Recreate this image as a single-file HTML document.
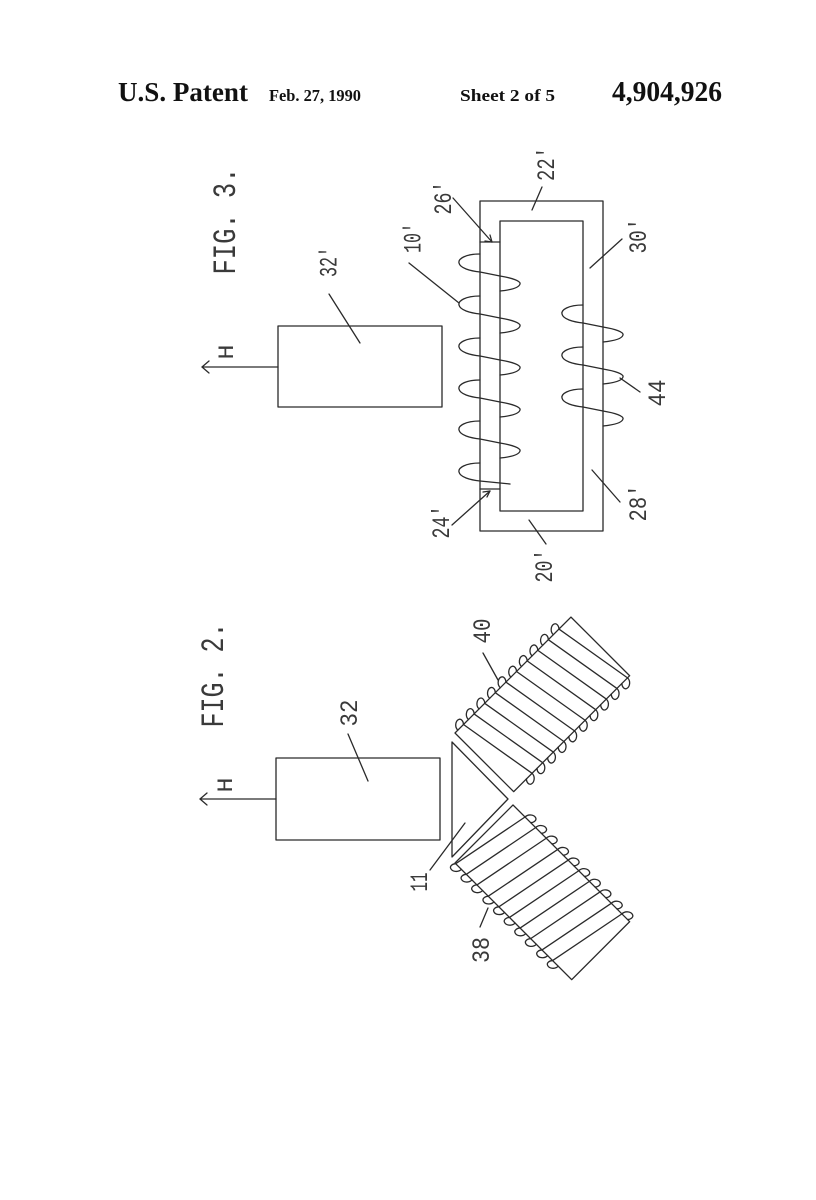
<!DOCTYPE html>
<html>
<head>
<meta charset="utf-8">
<style>
html,body{margin:0;padding:0;background:#fff;}
svg{display:block;}
.hd{font-family:"Liberation Serif",serif;font-weight:bold;fill:#111;}
.lb{font-family:"Liberation Mono",monospace;fill:#3a3a3a;}
.ln{fill:none;stroke:#2a2a2a;stroke-width:1.3;stroke-linecap:round;stroke-linejoin:round;}
</style>
</head>
<body>
<svg width="816" height="1200" viewBox="0 0 816 1200" xmlns="http://www.w3.org/2000/svg">
<!-- Header -->
<text class="hd" x="118" y="101" font-size="27" textLength="130" lengthAdjust="spacingAndGlyphs">U.S. Patent</text>
<text class="hd" x="269" y="101" font-size="17" textLength="92" lengthAdjust="spacingAndGlyphs">Feb. 27, 1990</text>
<text class="hd" x="460" y="101" font-size="17" textLength="95" lengthAdjust="spacingAndGlyphs">Sheet 2 of 5</text>
<text class="hd" x="612" y="101" font-size="29" textLength="110" lengthAdjust="spacingAndGlyphs">4,904,926</text>

<!-- ================= FIG 3 ================= -->
<g class="ln">
  <rect x="278" y="326" width="164" height="81"/>
  <line x1="202" y1="367" x2="278" y2="367"/>
  <polyline points="209,361 202,367 209,373"/>
  <rect x="480" y="201" width="123" height="330"/>
  <rect x="500" y="221" width="83" height="290"/>
  <line x1="480" y1="242" x2="500" y2="242"/>
  <line x1="480" y1="489" x2="500" y2="489"/>
  <!-- coil 10' -->
  <path d="M480,254 C465,254 458,259 459,263 C460,268 470,271 480,272 L500,276 C512,278 521,281 520,284 C519,288 510,290 500,291"/>
  <path d="M480,296 C465,296 458,301 459,305 C460,310 470,313 480,314 L500,318 C512,320 521,323 520,326 C519,330 510,332 500,333"/>
  <path d="M480,338 C465,338 458,343 459,347 C460,352 470,355 480,356 L500,360 C512,362 521,365 520,368 C519,372 510,374 500,375"/>
  <path d="M480,380 C465,380 458,385 459,389 C460,394 470,397 480,398 L500,402 C512,404 521,407 520,410 C519,414 510,416 500,417"/>
  <path d="M480,421 C465,421 458,426 459,430 C460,435 470,438 480,439 L500,443 C512,445 521,448 520,451 C519,455 510,457 500,458"/>
  <path d="M480,463 C465,463 458,468 459,472 C460,477 470,480 480,481 L510,484"/>
  <!-- coil 44 -->
  <path d="M583,305 C568,305 561,310 562,314 C563,319 573,322 583,323 L603,327 C615,329 624,332 623,335 C622,339 613,341 603,342"/>
  <path d="M583,347 C568,347 561,352 562,356 C563,361 573,364 583,365 L603,369 C615,371 624,374 623,377 C622,381 613,383 603,384"/>
  <path d="M583,389 C568,389 561,394 562,398 C563,403 573,406 583,407 L603,411 C615,413 624,416 623,419 C622,423 613,425 603,426"/>
  <!-- leaders -->
  <line x1="329" y1="294" x2="360" y2="343"/>
  <line x1="409" y1="263" x2="459" y2="303"/>
  <line x1="453" y1="198" x2="492" y2="242"/>
  <polyline points="485,241 492,242 490,235"/>
  <line x1="542" y1="187" x2="532" y2="210"/>
  <line x1="622" y1="239" x2="590" y2="268"/>
  <line x1="620" y1="378" x2="640" y2="392"/>
  <line x1="592" y1="470" x2="620" y2="502"/>
  <line x1="529" y1="520" x2="546" y2="544"/>
  <line x1="452" y1="525" x2="490" y2="491"/>
  <polyline points="483,492 490,491 487,497"/>
</g>

<!-- FIG 3 labels -->
<text class="lb" transform="translate(235,221) rotate(-90)" text-anchor="middle" font-size="32" textLength="107" lengthAdjust="spacingAndGlyphs">FIG. 3.</text>
<text class="lb" transform="translate(233,352) rotate(-90)" text-anchor="middle" font-size="22" textLength="15" lengthAdjust="spacingAndGlyphs">H</text>
<text class="lb" transform="translate(336.5,262) rotate(-90)" text-anchor="middle" font-size="25" textLength="30" lengthAdjust="spacingAndGlyphs">32'</text>
<text class="lb" transform="translate(420.5,238) rotate(-90)" text-anchor="middle" font-size="25" textLength="30" lengthAdjust="spacingAndGlyphs">10'</text>
<text class="lb" transform="translate(451,198) rotate(-90)" text-anchor="middle" font-size="25" textLength="33" lengthAdjust="spacingAndGlyphs">26'</text>
<text class="lb" transform="translate(554,164) rotate(-90)" text-anchor="middle" font-size="25" textLength="34" lengthAdjust="spacingAndGlyphs">22'</text>
<text class="lb" transform="translate(646,236) rotate(-90)" text-anchor="middle" font-size="25" textLength="35" lengthAdjust="spacingAndGlyphs">30'</text>
<text class="lb" transform="translate(665,393) rotate(-90)" text-anchor="middle" font-size="25" textLength="27" lengthAdjust="spacingAndGlyphs">44</text>
<text class="lb" transform="translate(646,503) rotate(-90)" text-anchor="middle" font-size="25" textLength="37" lengthAdjust="spacingAndGlyphs">28'</text>
<text class="lb" transform="translate(552,566) rotate(-90)" text-anchor="middle" font-size="25" textLength="33" lengthAdjust="spacingAndGlyphs">20'</text>
<text class="lb" transform="translate(449,522) rotate(-90)" text-anchor="middle" font-size="25" textLength="33" lengthAdjust="spacingAndGlyphs">24'</text>

<!-- ================= FIG 2 ================= -->
<g class="ln">
  <rect x="276" y="758" width="164" height="82"/>
  <line x1="200" y1="799" x2="276" y2="799"/>
  <polyline points="207,793 200,799 207,805"/>
  <polygon points="452,742 452,857 508,799"/>
  <line x1="348" y1="734" x2="368" y2="781"/>
  <line x1="483" y1="653" x2="498" y2="680"/>
  <line x1="430" y1="870" x2="465" y2="823"/>
  <line x1="480" y1="927" x2="488" y2="908"/>
</g>

<!-- coil 40 -->
<g class="ln" transform="translate(455,733) rotate(-45)">
  <rect x="0" y="0" width="164" height="83"/>
  <path d="M4,0 C4,-5 9,-8 12,-7 C15,-6 14,-2 12,0 L26,83 C26,88 21,91 18,90 C15,89 16,85 18,83"/>
  <path d="M19,0 C19,-5 24,-8 27,-7 C30,-6 29,-2 27,0 L41,83 C41,88 36,91 33,90 C30,89 31,85 33,83"/>
  <path d="M34,0 C34,-5 39,-8 42,-7 C45,-6 44,-2 42,0 L56,83 C56,88 51,91 48,90 C45,89 46,85 48,83"/>
  <path d="M49,0 C49,-5 54,-8 57,-7 C60,-6 59,-2 57,0 L71,83 C71,88 66,91 63,90 C60,89 61,85 63,83"/>
  <path d="M64,0 C64,-5 69,-8 72,-7 C75,-6 74,-2 72,0 L86,83 C86,88 81,91 78,90 C75,89 76,85 78,83"/>
  <path d="M79,0 C79,-5 84,-8 87,-7 C90,-6 89,-2 87,0 L101,83 C101,88 96,91 93,90 C90,89 91,85 93,83"/>
  <path d="M94,0 C94,-5 99,-8 102,-7 C105,-6 104,-2 102,0 L116,83 C116,88 111,91 108,90 C105,89 106,85 108,83"/>
  <path d="M109,0 C109,-5 114,-8 117,-7 C120,-6 119,-2 117,0 L131,83 C131,88 126,91 123,90 C120,89 121,85 123,83"/>
  <path d="M124,0 C124,-5 129,-8 132,-7 C135,-6 134,-2 132,0 L146,83 C146,88 141,91 138,90 C135,89 136,85 138,83"/>
  <path d="M139,0 C139,-5 144,-8 147,-7 C150,-6 149,-2 147,0 L161,83 C161,88 156,91 153,90 C150,89 151,85 153,83"/>
</g>

<!-- coil 38 -->
<g class="ln" transform="translate(513,805) rotate(45)">
  <rect x="0" y="0" width="165" height="82"/>
  <path d="M25,0 C27,-2 28,-6 25,-7 C22,-8 17,-5 17,0 L1,82 C-1,84 -2,88 1,89 C4,90 9,87 9,82"/>
  <path d="M40,0 C42,-2 43,-6 40,-7 C37,-8 32,-5 32,0 L16,82 C14,84 13,88 16,89 C19,90 24,87 24,82"/>
  <path d="M55,0 C57,-2 58,-6 55,-7 C52,-8 47,-5 47,0 L31,82 C29,84 28,88 31,89 C34,90 39,87 39,82"/>
  <path d="M71,0 C73,-2 74,-6 71,-7 C68,-8 63,-5 63,0 L47,82 C45,84 44,88 47,89 C50,90 55,87 55,82"/>
  <path d="M86,0 C88,-2 89,-6 86,-7 C83,-8 78,-5 78,0 L62,82 C60,84 59,88 62,89 C65,90 70,87 70,82"/>
  <path d="M101,0 C103,-2 104,-6 101,-7 C98,-8 93,-5 93,0 L77,82 C75,84 74,88 77,89 C80,90 85,87 85,82"/>
  <path d="M116,0 C118,-2 119,-6 116,-7 C113,-8 108,-5 108,0 L92,82 C90,84 89,88 92,89 C95,90 100,87 100,82"/>
  <path d="M131,0 C133,-2 134,-6 131,-7 C128,-8 123,-5 123,0 L107,82 C105,84 104,88 107,89 C110,90 115,87 115,82"/>
  <path d="M147,0 C149,-2 150,-6 147,-7 C144,-8 139,-5 139,0 L123,82 C121,84 120,88 123,89 C126,90 131,87 131,82"/>
  <path d="M162,0 C164,-2 165,-6 162,-7 C159,-8 154,-5 154,0 L138,82 C136,84 135,88 138,89 C141,90 146,87 146,82"/>
</g>

<!-- FIG 2 labels -->
<text class="lb" transform="translate(223,675) rotate(-90)" text-anchor="middle" font-size="32" textLength="105" lengthAdjust="spacingAndGlyphs">FIG. 2.</text>
<text class="lb" transform="translate(232,785) rotate(-90)" text-anchor="middle" font-size="22" textLength="15" lengthAdjust="spacingAndGlyphs">H</text>
<text class="lb" transform="translate(357,713) rotate(-90)" text-anchor="middle" font-size="25" textLength="27" lengthAdjust="spacingAndGlyphs">32</text>
<text class="lb" transform="translate(490,631) rotate(-90)" text-anchor="middle" font-size="25" textLength="25" lengthAdjust="spacingAndGlyphs">40</text>
<text class="lb" transform="translate(427,882) rotate(-90)" text-anchor="middle" font-size="25" textLength="19" lengthAdjust="spacingAndGlyphs">11</text>
<text class="lb" transform="translate(489,950) rotate(-90)" text-anchor="middle" font-size="25" textLength="26" lengthAdjust="spacingAndGlyphs">38</text>
</svg>
</body>
</html>
